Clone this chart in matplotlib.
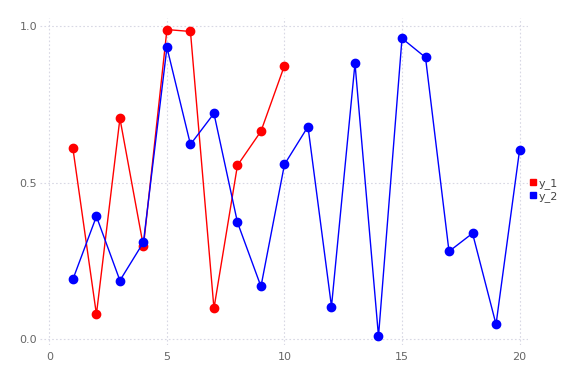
import matplotlib
matplotlib.use("Agg")
import matplotlib.pyplot as plt
from matplotlib.lines import Line2D

# data
x_1 = list(range(1, 11))
y_1 = [0.610, 0.080, 0.706, 0.297, 0.990, 0.984, 0.099, 0.556, 0.665, 0.875]
x_2 = list(range(1, 21))
y_2 = [0.192, 0.393, 0.188, 0.310, 0.933, 0.623, 0.722, 0.374, 0.169, 0.559,
       0.680, 0.105, 0.882, 0.010, 0.962, 0.901, 0.281, 0.339, 0.048, 0.604]
labels = ['y_1', 'y_2']
colors = ['#ff0000', '#0000ff']
xticks = [0, 5, 10, 15, 20]
yticks = [0.0, 0.5, 1.0]

fig = plt.figure(figsize=(5.76, 3.84), dpi=100)
ax = fig.add_axes([40 / 576, 1 - 345 / 384, 488 / 576, 327 / 384])

ax.plot(x_1, y_1, '-o', color=colors[0], linewidth=1, markersize=6, zorder=3)
ax.plot(x_2, y_2, '-o', color=colors[1], linewidth=1, markersize=6, zorder=3)

ax.set_xlim(-0.4, 20.36)
ax.set_ylim(-0.018, 1.027)
ax.set_xticks(xticks)
ax.set_yticks(yticks)
ax.set_xticklabels([str(t) for t in xticks])
ax.set_yticklabels([f'{t:.1f}' for t in yticks])
ax.tick_params(length=0, labelsize=8, labelcolor='#666666')
ax.tick_params(axis='y', pad=2)
ax.tick_params(axis='x', pad=5)
for s in ax.spines.values():
    s.set_visible(False)
ax.grid(True, linestyle=(0, (1.5, 2)), color='#d8d8e4', linewidth=0.8)
ax.set_axisbelow(True)

handles = [Line2D([], [], linestyle='none', marker='s', markersize=5,
                  color=c) for c in colors]
ax.legend(handles, labels, loc='center left', bbox_to_anchor=(0.99, 0.475),
          frameon=False, fontsize=8, handlelength=0.5, handletextpad=0.3,
          labelspacing=0.2, borderaxespad=0.2, labelcolor='#444444')

fig.savefig('out.png', dpi=100)
